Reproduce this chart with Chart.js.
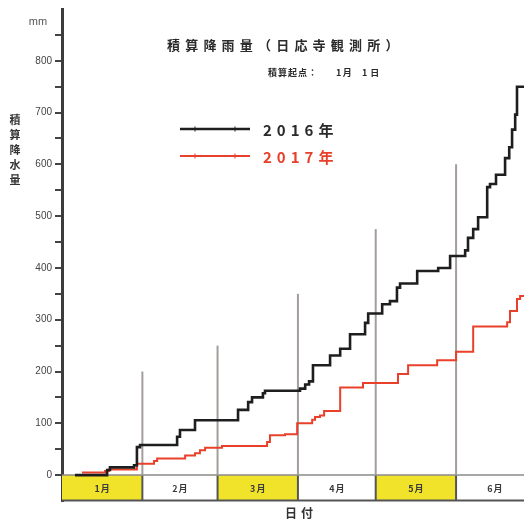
<!DOCTYPE html>
<html><head><meta charset="utf-8">
<script src="https://cdn.jsdelivr.net/npm/chart.js@4.4.1/dist/chart.umd.min.js"></script>
<style>html,body{margin:0;padding:0;background:#fff;overflow:hidden}#wrap{position:relative;width:524px;height:522px}</style>
</head><body><div id="wrap"><canvas id="c"></canvas></div>
<script>
// ---- data (day of year, cumulative rainfall mm) ----
const days2016 = [5.0, 17.4, 18.5, 27.8, 28.9, 30.1, 44.4, 45.5, 51.3, 67.9, 71.8, 73.3, 77.5, 78.3, 91.8, 93.8, 95.3, 96.8, 103.4, 107.3, 111.1, 116.9, 118.1, 123.5, 126.5, 129.2, 130.4, 137.0, 145.1, 149.7, 155.5, 156.6, 158.6, 160.5, 164.0, 165.1, 167.4, 170.9, 172.5, 173.6, 174.8, 175.5, 178.2];
const rain2016 = [0, 10, 15, 19, 54, 58, 74, 87, 106, 126, 141, 150, 158, 163, 167, 175, 181, 212, 231, 244, 272, 294, 312, 330, 336, 362, 370, 394, 400, 423, 434, 458, 475, 498, 556, 562, 580, 612, 633, 667, 696, 750, 750];
const days2017 = [7.7, 16.6, 18.1, 28.9, 35.5, 36.7, 47.5, 51.3, 53.2, 55.2, 61.7, 79.1, 80.2, 86.0, 90.7, 96.5, 97.6, 99.5, 101.1, 107.3, 116.1, 129.6, 133.5, 144.7, 152.0, 158.6, 171.7, 172.8, 175.5, 176.7, 178.2];
const rain2017 = [5, 8, 11, 22, 27, 32, 38, 42, 48, 53, 56, 64, 77, 79, 100, 107, 112, 115, 124, 169, 178, 195, 212, 222, 238, 287, 295, 317, 340, 346, 346];
const seriesNames = ['2016年', '2017年'];
const monthStarts = [0, 31, 60, 91, 121, 152, 182];
const monthLabels = ['1月', '2月', '3月', '4月', '5月', '6月'];
const boundaryDays = [31, 60, 91, 121, 152];
const boundaryTops = [200, 250, 350, 475, 600];
const yLabelValues = [0, 100, 200, 300, 400, 500, 600, 700, 800];

const CJK = '"Noto Sans CJK JP", "Noto Sans", sans-serif';
const toPts = (xs, ys) => xs.map((x, i) => ({x: x, y: ys[i]}));

const datasets = [
  {label: seriesNames[0], data: toPts(days2016, rain2016), borderColor: '#1e1e1e', borderWidth: 2.6, stepped: 'before', pointRadius: 0, fill: false, order: 1},
  {label: seriesNames[1], data: toPts(days2017, rain2017), borderColor: '#e8402a', borderWidth: 2, stepped: 'before', pointRadius: 0, fill: false, order: 2}
];
boundaryDays.forEach((d, i) => {
  datasets.push({label: 'b' + i, data: [{x: d, y: 0}, {x: d, y: boundaryTops[i]}], borderColor: '#a39d9b', borderWidth: 2, pointRadius: 0, fill: false, order: 5});
});

function spaced(ctx, text, x, y, sp) {
  for (const ch of text) { ctx.fillText(ch, x, y); x += ctx.measureText(ch).width + sp; }
}

const deco = {
  id: 'deco',
  beforeDatasetsDraw(chart) {
    const ctx = chart.ctx, xs = chart.scales.x, ys = chart.scales.y, ca = chart.chartArea;
    const y0 = ys.getPixelForValue(0), y1 = ys.getPixelForValue(-50);
    ctx.save();
    for (let i = 0; i < monthLabels.length; i++) {
      const a = xs.getPixelForValue(monthStarts[i]);
      const b = Math.min(xs.getPixelForValue(monthStarts[i + 1]), ca.right);
      ctx.fillStyle = (i % 2 === 0) ? '#f1e32a' : '#ffffff';
      ctx.fillRect(a, y0, b - a, y1 - y0);
      ctx.fillStyle = '#3a3a3a';
      ctx.font = 'bold 9px ' + CJK;
      ctx.textAlign = 'left'; ctx.textBaseline = 'middle';
      const w = ctx.measureText(monthLabels[i]).width + 1;
      spaced(ctx, monthLabels[i], (a + xs.getPixelForValue(monthStarts[i + 1])) / 2 - w / 2, (y0 + y1) / 2 + 1, 1);
    }
    ctx.strokeStyle = '#555'; ctx.lineWidth = 2;
    boundaryDays.forEach(d => {
      const x = xs.getPixelForValue(d);
      ctx.beginPath(); ctx.moveTo(x, y0); ctx.lineTo(x, y1); ctx.stroke();
    });
    ctx.beginPath(); ctx.moveTo(ca.left, y1 - 0.5); ctx.lineTo(ca.right, y1 - 0.5); ctx.stroke();
    ctx.strokeStyle = '#8a8a8a'; ctx.lineWidth = 1.5;
    ctx.beginPath(); ctx.moveTo(ca.left, y0); ctx.lineTo(ca.right, y0); ctx.stroke();
    ctx.restore();
  },
  afterDraw(chart) {
    const ctx = chart.ctx;
    ctx.save();
    ctx.textBaseline = 'middle'; ctx.textAlign = 'left';
    // title
    ctx.fillStyle = '#2a2a2a';
    ctx.font = 'bold 13px ' + CJK;
    spaced(ctx, '積算降雨量（日応寺観測所）', 167, 45, 5.2);
    // subtitle
    ctx.font = 'bold 9px ' + CJK;
    spaced(ctx, '積算起点：', 268, 73, 1);
    spaced(ctx, '1月', 336, 73, 1.5);
    spaced(ctx, '1日', 362, 73, 3);
    // legend
    const leg = [{y: 129, c: '#1e1e1e', w: 2.6, t: seriesNames[0]}, {y: 156, c: '#e8402a', w: 2, t: seriesNames[1]}];
    leg.forEach(l => {
      ctx.strokeStyle = l.c; ctx.lineWidth = l.w;
      ctx.beginPath(); ctx.moveTo(180, l.y); ctx.lineTo(250, l.y); ctx.stroke();
      ctx.lineWidth = 1;
      [195, 235].forEach(tx => { ctx.beginPath(); ctx.moveTo(tx, l.y - 2.5); ctx.lineTo(tx, l.y + 2.5); ctx.stroke(); });
      ctx.fillStyle = l.c === '#1e1e1e' ? '#2a2a2a' : '#e8402a';
      ctx.font = 'bold 15px ' + CJK;
      spaced(ctx, l.t, 263, l.y + 1, 5);
    });
    // y axis title (vertical)
    ctx.fillStyle = '#333'; ctx.font = 'bold 11px ' + CJK; ctx.textAlign = 'center';
    Array.from('積算降水量').forEach((ch, i) => ctx.fillText(ch, 15, 120 + i * 15));
    // unit
    ctx.font = '11px "Liberation Sans", sans-serif'; ctx.fillStyle = '#555';
    ctx.fillText('mm', 38, 22);
    // x axis title
    ctx.fillStyle = '#333'; ctx.font = 'bold 12px ' + CJK; ctx.textAlign = 'left';
    spaced(ctx, '日付', 285, 513, 4);
    ctx.restore();
  }
};

new Chart(document.getElementById('c'), {
  type: 'line',
  data: {datasets: datasets},
  plugins: [deco],
  options: {
    responsive: true, maintainAspectRatio: false, animation: false,
    layout: {padding: {left: 0, right: 0, top: 7, bottom: 21}},
    plugins: {legend: {display: false}, tooltip: {enabled: false}, title: {display: false}},
    scales: {
      x: {type: 'linear', display: false, min: 0, max: 178.2},
      y: {
        type: 'linear', min: -50, max: 900,
        afterFit(s) { s.width = 62; },
        ticks: {stepSize: 50, autoSkip: false, padding: 3, color: '#444',
          font: {size: 10, family: '"Liberation Sans", Arial, sans-serif'},
          callback: v => yLabelValues.includes(v) ? String(v) : ''},
        grid: {drawOnChartArea: false, drawTicks: true, tickLength: 7, lineWidth: 2,
          color: c => (c.tick && c.tick.value >= 0 && c.tick.value <= 850) ? '#444' : 'rgba(0,0,0,0)'},
        border: {display: true, color: '#3c3c3c', width: 3}
      }
    }
  }
});
</script></body></html>
